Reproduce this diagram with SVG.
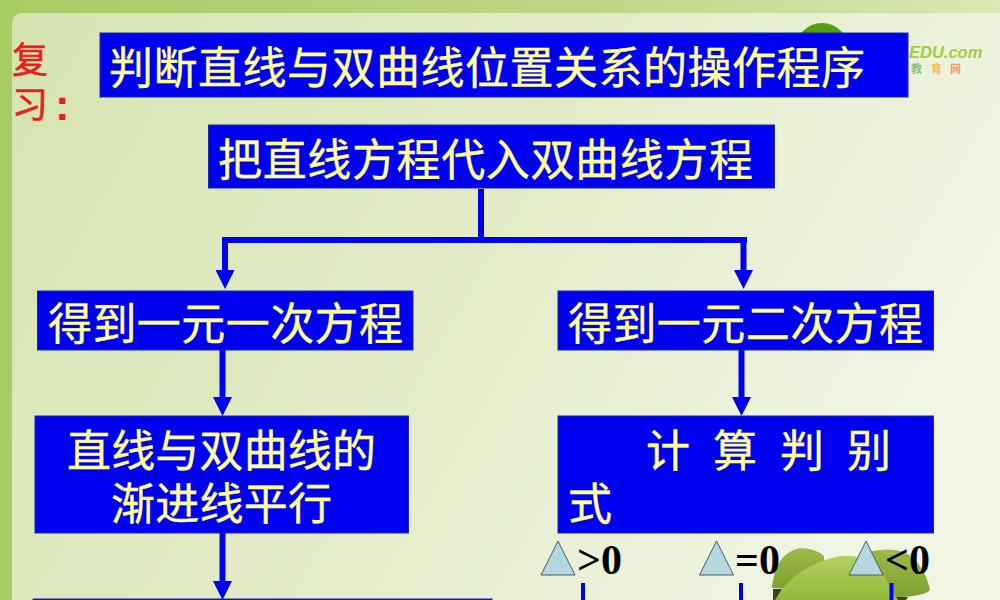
<svg xmlns="http://www.w3.org/2000/svg" width="1000" height="600" viewBox="0 0 1000 600">
<defs>
<linearGradient id="bg" x1="0" y1="0" x2="1" y2="0.35"><stop offset="0" stop-color="#d6e4b0"/><stop offset="0.5" stop-color="#e2ebc6"/><stop offset="1" stop-color="#f0f5e4"/></linearGradient>
<linearGradient id="band" x1="0" y1="0" x2="1" y2="0"><stop offset="0" stop-color="#a6cc62"/><stop offset="0.6" stop-color="#bcd886"/><stop offset="1" stop-color="#d9e8b4"/></linearGradient>
<linearGradient id="back" x1="0" y1="0" x2="0" y2="1"><stop offset="0" stop-color="#9dbb4a"/><stop offset="1" stop-color="#7f9f30"/></linearGradient>
<linearGradient id="front" x1="0" y1="0" x2="0" y2="1"><stop offset="0" stop-color="#b4d060"/><stop offset="1" stop-color="#93b83a"/></linearGradient>
<marker id="ah" markerUnits="userSpaceOnUse" markerWidth="19" markerHeight="19" refX="0" refY="9.500" orient="auto"><path d="M0 0L19 9.500L0 19Z" fill="#0000f0"/></marker>
</defs>
<style>
.box{fill:#0000f0;stroke:#1a2aa0;stroke-width:1}
.t{font-family:"Noto Sans CJK SC","Liberation Sans",sans-serif;font-size:44px;fill:#ffff99;stroke:#ffff99;stroke-width:.4}
.r{font-family:"Noto Sans CJK SC","Liberation Sans",sans-serif;font-size:36px;fill:#e8201c;stroke:#e8201c;stroke-width:.6}
.m{font-family:"Liberation Serif",serif;font-weight:bold;font-size:42px;fill:#000}
.c{fill:none;stroke:#0000f0;stroke-width:6}
.d{fill:none;stroke:#0000f0;stroke-width:4}
.tri{fill:#b5d8e0;stroke:#4a5a60;stroke-width:1}
</style>
<rect width="1000" height="600" fill="url(#band)"/>
<rect x="12" y="13" width="1000" height="600" rx="10" fill="url(#bg)"/>
<circle cx="822" cy="50" r="27" fill="#52a010"/>
<text x="909" y="58" font-family="Liberation Sans,sans-serif" font-weight="bold" font-style="italic" font-size="16.500" fill="#a2cb48">EDU.com</text>
<text x="911" y="73" font-family="Noto Sans CJK SC,sans-serif" font-weight="bold" font-size="11" fill="#8cc070">教</text>
<text x="931" y="73" font-family="Noto Sans CJK SC,sans-serif" font-weight="bold" font-size="11" fill="#eec060">育</text>
<text x="950" y="73" font-family="Noto Sans CJK SC,sans-serif" font-weight="bold" font-size="11" fill="#ee9a70">网</text>
<g id="decor">
<path d="M772 588Q775 553 800 548Q815 548 824 556L824 590Z" fill="url(#back)"/>
<path d="M866 552Q890 547 905 552Q925 565 930 590Q925 596 900 597L866 597Z" fill="url(#back)"/>
<path d="M773 589L782 589L776 600L773 600ZM895 597L908 597L906 600L895 600Z" fill="#3a4020"/>
<path d="M775 600Q795 565 840 556Q870 553 885 578L898 600Z" fill="url(#front)"/>
</g>
<g id="connectors">
<path class="c" d="M481 189V240M222 240H747"/>
<path class="c" d="M225 240V270" marker-end="url(#ah)"/>
<path class="c" d="M743.500 240V270" marker-end="url(#ah)"/>
<path class="c" d="M222.500 350V397" marker-end="url(#ah)"/>
<path class="c" d="M222.500 533V581" marker-end="url(#ah)"/>
<path class="c" d="M741.500 350V397" marker-end="url(#ah)"/>
<path class="d" d="M583 583V600M741 583V600M891.500 583V600"/>
</g>
<g id="review"><text class="r" x="12" y="73">复</text><text class="r" x="12" y="118">习</text><text x="55" y="120" font-family="Liberation Sans,sans-serif" font-weight="bold" font-size="44" fill="#e8201c">:</text></g>
<g id="title"><rect class="box" x="100" y="33" width="808" height="64"/><text class="t" x="109" y="84" textLength="756">判断直线与双曲线位置关系的操作程序</text></g>
<g id="substitute"><rect class="box" x="208.500" y="125" width="566" height="63"/><text class="t" x="218" y="176" textLength="535">把直线方程代入双曲线方程</text></g>
<g id="linear"><rect class="box" x="37.500" y="291" width="375.500" height="59"/><text class="t" x="48" y="340" textLength="355">得到一元一次方程</text></g>
<g id="quadratic"><rect class="box" x="558" y="291" width="375.500" height="59"/><text class="t" x="568" y="340" textLength="355">得到一元二次方程</text></g>
<g id="parallel"><rect class="box" x="35" y="416" width="373.500" height="117"/><text class="t" x="67" y="467" textLength="309">直线与双曲线的</text><text class="t" x="111" y="520" textLength="221">渐进线平行</text></g>
<g id="discriminant"><rect class="box" x="558" y="416" width="375.500" height="117"/><text class="t" x="646 713 780 847" y="467">计算判别</text><text class="t" x="568" y="520">式</text></g>
<g id="next"><rect class="box" x="33" y="599" width="459" height="3"/></g>
<g id="cases">
<path class="tri" d="M558 541L575 575H541Z"/><text class="m" x="577" y="574">&gt;0</text>
<path class="tri" d="M716.500 541L733.500 575H699.500Z"/><text class="m" x="735" y="574">=0</text>
<path class="tri" d="M866 541L883 575H849Z"/><text class="m" x="885" y="574">&lt;0</text>
</g>
</svg>
